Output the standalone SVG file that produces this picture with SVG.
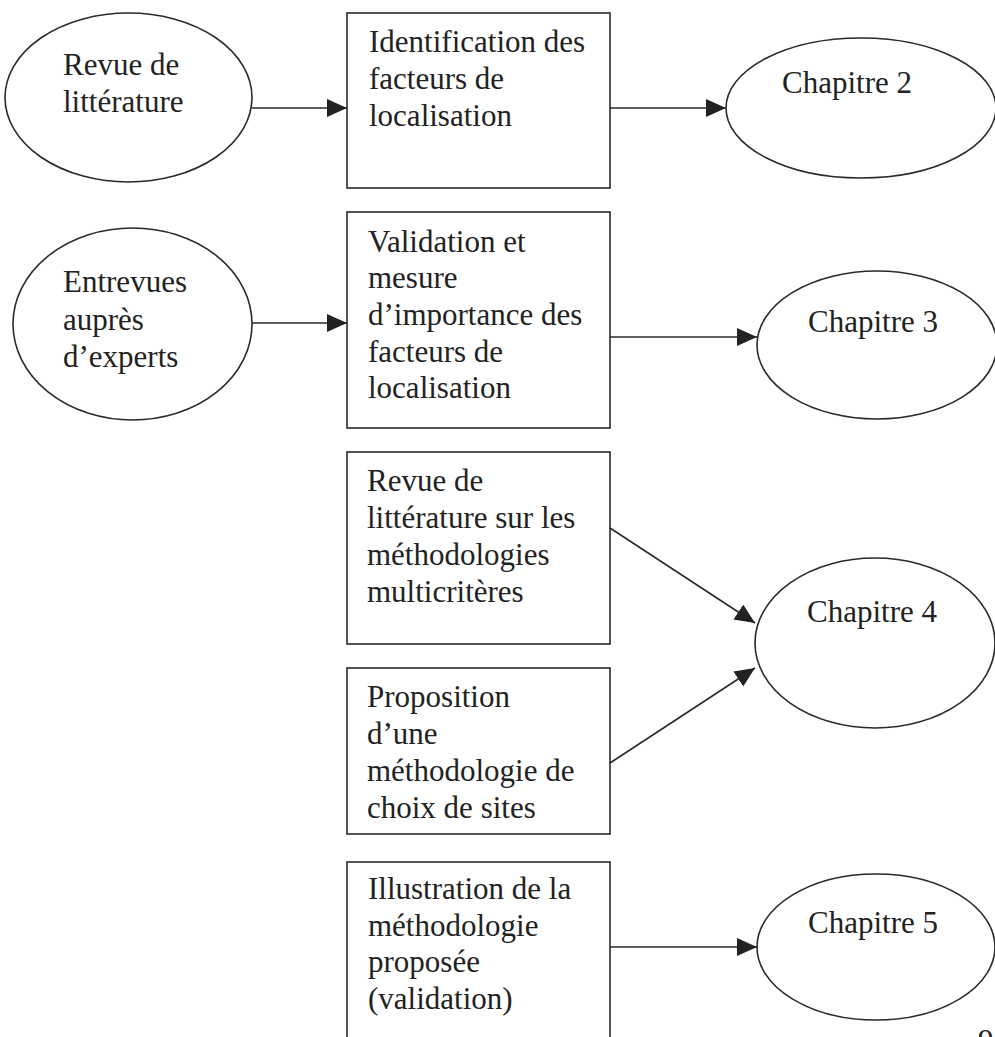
<svg xmlns="http://www.w3.org/2000/svg" width="995" height="1037" viewBox="0 0 995 1037">
<style>
.n{fill:#fff;stroke:#2a2a2a;stroke-width:1.6}
.t{font-family:"Liberation Serif","Times New Roman",serif;font-size:31px;fill:#222}
.c{stroke:#2a2a2a;stroke-width:1.6;fill:none;marker-end:url(#ah)}
</style>
<defs>
<marker id="ah" markerUnits="userSpaceOnUse" markerWidth="22" markerHeight="20" refX="20" refY="9" orient="auto">
<path d="M0,0 L20,9 L0,18 z" fill="#222"/>
</marker>
</defs>
<rect width="995" height="1037" fill="#fff"/>
<g id="lit">
<ellipse class="n" cx="128.5" cy="97.5" rx="123.5" ry="84.5"/>
<text class="t" x="63" y="75">Revue de</text>
<text class="t" x="63" y="112">littérature</text>
</g>
<g id="ident">
<rect class="n" x="347" y="13" width="263" height="175"/>
<text class="t" x="369" y="52">Identification des</text>
<text class="t" x="369" y="89">facteurs de</text>
<text class="t" x="369" y="126">localisation</text>
</g>
<g id="ch2">
<ellipse class="n" cx="861" cy="108" rx="135" ry="70"/>
<text class="t" x="782" y="93">Chapitre 2</text>
</g>
<g id="entrevues">
<ellipse class="n" cx="132.5" cy="324" rx="119.5" ry="96"/>
<text class="t" x="63" y="292">Entrevues</text>
<text class="t" x="63" y="330">auprès</text>
<text class="t" x="63" y="367">d’experts</text>
</g>
<g id="valid">
<rect class="n" x="347" y="212" width="263" height="216"/>
<text class="t" x="368" y="252">Validation et</text>
<text class="t" x="368" y="288">mesure</text>
<text class="t" x="368" y="325">d’importance des</text>
<text class="t" x="368" y="362">facteurs de</text>
<text class="t" x="368" y="398">localisation</text>
</g>
<g id="ch3">
<ellipse class="n" cx="877" cy="345" rx="120" ry="74"/>
<text class="t" x="808" y="332">Chapitre 3</text>
</g>
<g id="revmeth">
<rect class="n" x="347" y="452" width="263" height="192"/>
<text class="t" x="367" y="491">Revue de</text>
<text class="t" x="367" y="528">littérature sur les</text>
<text class="t" x="367" y="565">méthodologies</text>
<text class="t" x="367" y="602">multicritères</text>
</g>
<g id="propo">
<rect class="n" x="347" y="668" width="263" height="166"/>
<text class="t" x="367" y="707">Proposition</text>
<text class="t" x="367" y="744">d’une</text>
<text class="t" x="367" y="781">méthodologie de</text>
<text class="t" x="367" y="818">choix de sites</text>
</g>
<g id="ch4">
<ellipse class="n" cx="875" cy="643" rx="120" ry="85"/>
<text class="t" x="807" y="622">Chapitre 4</text>
</g>
<g id="illus">
<rect class="n" x="347" y="862" width="263" height="200"/>
<text class="t" x="368" y="899">Illustration de la</text>
<text class="t" x="368" y="936">méthodologie</text>
<text class="t" x="368" y="972">proposée</text>
<text class="t" x="368" y="1009">(validation)</text>
</g>
<g id="ch5">
<ellipse class="n" cx="876" cy="947" rx="119" ry="73"/>
<text class="t" x="808" y="933">Chapitre 5</text>
</g>
<g id="connectors">
<line class="c" x1="252" y1="108" x2="347" y2="108"/>
<line class="c" x1="610" y1="108" x2="726" y2="108"/>
<line class="c" x1="252" y1="323" x2="347" y2="323"/>
<line class="c" x1="610" y1="337" x2="757" y2="337"/>
<line class="c" x1="610" y1="528" x2="755" y2="623"/>
<line class="c" x1="610" y1="763" x2="755" y2="668"/>
<line class="c" x1="610" y1="947" x2="757" y2="947"/>
</g>
<text class="t" x="978" y="1051">9</text>
</svg>
